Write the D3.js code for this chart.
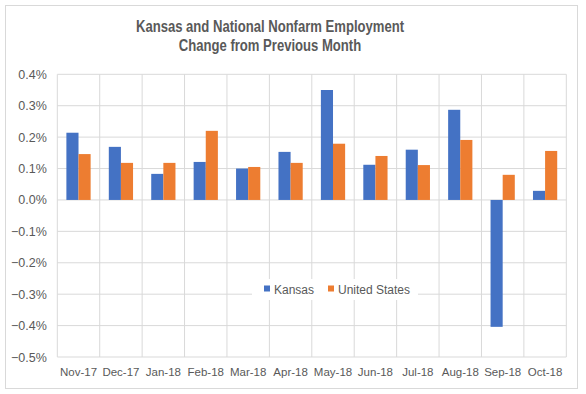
<!DOCTYPE html>
<html>
<head>
<meta charset="utf-8">
<script src="https://cdn.jsdelivr.net/npm/d3@7"></script>
<style>
  body { margin: 0; background: #fff; }
  text { font-family: "Liberation Sans", Arial, sans-serif; fill: #595959; }
</style>
</head>
<body>
<svg id="chart" width="586" height="394"></svg>
<script>
var months = ["Nov-17", "Dec-17", "Jan-18", "Feb-18", "Mar-18", "Apr-18",
              "May-18", "Jun-18", "Jul-18", "Aug-18", "Sep-18", "Oct-18"];
var kansas = [0.214, 0.169, 0.083, 0.121, 0.100, 0.153, 0.350, 0.112, 0.160, 0.287, -0.404, 0.029];
var unitedStates = [0.146, 0.118, 0.118, 0.220, 0.105, 0.118, 0.179, 0.140, 0.111, 0.191, 0.080, 0.156];
var seriesNames = ["Kansas", "United States"];
var yTicks = [-0.5, -0.4, -0.3, -0.2, -0.1, 0, 0.1, 0.2, 0.3, 0.4];

var colors = {"Kansas": "#4472c4", "United States": "#ed7d31"};

var svg = d3.select("svg#chart"),
    margin = {top: 74.3, right: 19.7, bottom: 37, left: 57.3},
    width = +svg.attr("width") - margin.left - margin.right,
    height = +svg.attr("height") - margin.top - margin.bottom;

// outer chart border
svg.append("rect")
    .attr("x", 5.5).attr("y", 5.5)
    .attr("width", 572).attr("height", 383)
    .attr("fill", "none")
    .attr("stroke", "#d9d9d9");

// title - the original uses a condensed bold face, squeeze it horizontally
var title = svg.append("g")
    .attr("transform", "translate(270,0) scale(0.77,1)")
  .append("text")
    .attr("text-anchor", "middle")
    .style("font-size", "17px")
    .style("font-weight", "bold");
title.append("tspan").attr("x", 0).attr("y", 32).text("Kansas and National Nonfarm Employment");
title.append("tspan").attr("x", 0).attr("y", 51.5).text("Change from Previous Month");

var x = d3.scaleBand().domain(months).range([0, width])
    .paddingInner(1.5 / 3.5).paddingOuter(0.75 / 3.5);
var x1 = d3.scaleBand().domain(seriesNames).range([0, x.bandwidth()]);
var y = d3.scaleLinear().domain([-0.5, 0.4]).range([height, 0]);

var g = svg.append("g")
    .attr("transform", "translate(" + margin.left + "," + margin.top + ")");

// horizontal gridlines
g.append("g")
    .selectAll("line").data(yTicks).enter().append("line")
    .attr("x1", 0).attr("x2", width)
    .attr("y1", function(d) { return y(d); })
    .attr("y2", function(d) { return y(d); })
    .attr("stroke", "#d9d9d9");

// vertical gridlines at category boundaries
var bounds = months.map(function(m) { return x(m) - x.step() * x.paddingOuter(); });
bounds.push(width);
g.append("g")
    .selectAll("line").data(bounds).enter().append("line")
    .attr("x1", function(d) { return d; }).attr("x2", function(d) { return d; })
    .attr("y1", 0).attr("y2", height)
    .attr("stroke", "#d9d9d9");

// y axis labels
var yAxis = g.append("g")
    .call(d3.axisLeft(y).tickValues(yTicks).tickSize(0).tickPadding(10.5)
        .tickFormat(function(d) { return d3.format(".1f")(d) + "%"; }));
yAxis.select(".domain").remove();
yAxis.selectAll("text").style("font-size", "12.5px").attr("fill", "#595959");

// x axis labels
var xAxis = g.append("g")
    .attr("transform", "translate(0," + height + ")")
    .call(d3.axisBottom(x).tickSize(0).tickPadding(11));
xAxis.select(".domain").remove();
xAxis.selectAll("text").style("font-size", "11.5px").attr("fill", "#595959");

// bars
var rows = months.map(function(m, i) {
  return {month: m, values: [{name: "Kansas", v: kansas[i]}, {name: "United States", v: unitedStates[i]}]};
});

g.selectAll(".group").data(rows).enter().append("g")
    .attr("class", "group")
    .attr("transform", function(d) { return "translate(" + x(d.month) + ",0)"; })
  .selectAll("rect").data(function(d) { return d.values; }).enter().append("rect")
    .attr("x", function(d) { return x1(d.name); })
    .attr("width", x1.bandwidth())
    .attr("y", function(d) { return y(Math.max(0, d.v)); })
    .attr("height", function(d) { return Math.abs(y(d.v) - y(0)); })
    .attr("fill", function(d) { return colors[d.name]; });

// legend with white background
var legend = svg.append("g");
legend.append("rect")
    .attr("x", 252).attr("y", 279).attr("width", 166).attr("height", 21)
    .attr("fill", "#fff");
var items = [{name: "Kansas", x: 264}, {name: "United States", x: 328}];
items.forEach(function(it) {
  legend.append("rect")
      .attr("x", it.x).attr("y", 285.5).attr("width", 6).attr("height", 6)
      .attr("fill", colors[it.name]);
  legend.append("text")
      .attr("x", it.x + 10).attr("y", 294)
      .style("font-size", "12px")
      .text(it.name);
});
</script>
</body>
</html>
